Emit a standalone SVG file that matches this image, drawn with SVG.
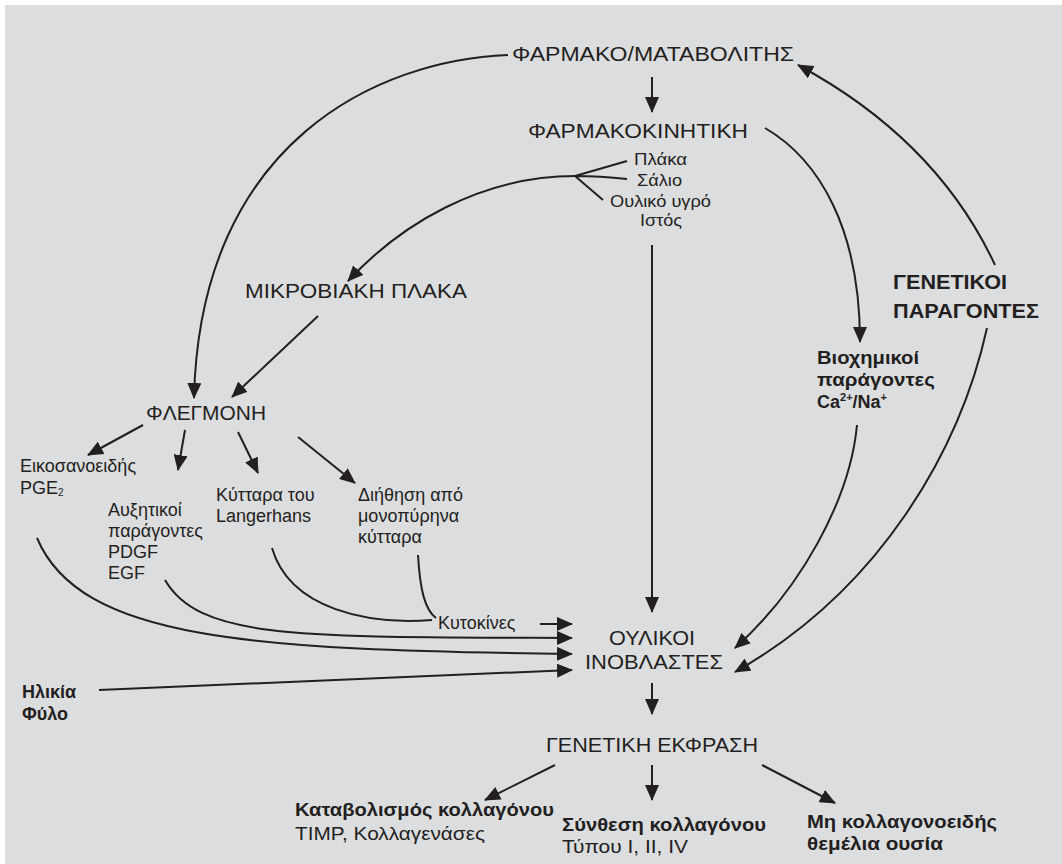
<svg xmlns="http://www.w3.org/2000/svg" width="1062" height="864" viewBox="0 0 1062 864">
<defs>
<marker id="ah" markerUnits="userSpaceOnUse" markerWidth="16" markerHeight="14" refX="15" refY="7" orient="auto">
<path d="M0,0 L16,7 L0,14 Z" fill="#231f20"/>
</marker>
<style>
.t{font-family:"Liberation Sans","Noto Sans",sans-serif;fill:#231f20}
.big{font-size:21px}
.sm{font-size:17px}
.md{font-size:18px}
.bt{font-size:19px}
.b{font-weight:bold}
.c{fill:none;stroke:#231f20;stroke-width:2}
.a{marker-end:url(#ah)}
</style>
</defs>
<rect x="0" y="0" width="1062" height="864" fill="#ffffff"/>
<rect x="5" y="5" width="1057" height="859" fill="#dcdddf"/>

<g id="connectors">
<path class="c a" d="M508,55 C380,60 200,140 194,398"/>
<path class="c a" d="M652,77 L652,112"/>
<path class="c a" d="M765,128 C820,160 860,230 860,342"/>
<path class="c a" d="M995,265 C960,190 900,120 798,65"/>
<path class="c" d="M627,161 L575,176 M627,179 Q600,176 575,176 M603,200 L575,176"/>
<path class="c a" d="M575,176 C480,176 400,225 348,281"/>
<path class="c a" d="M652,245 L652,612"/>
<path class="c a" d="M318,316 L232,397"/>
<path class="c a" d="M143,425 L88,455"/>
<path class="c a" d="M185,430 L178,470"/>
<path class="c a" d="M238,432 L258,473"/>
<path class="c a" d="M298,437 L355,483"/>
<path class="c a" d="M540,624 L572,624"/>
<path class="c" d="M272,548 C290,610 370,625 432,620"/>
<path class="c" d="M418,555 C420,590 425,610 436,618"/>
<path class="c a" d="M165,580 C200,640 300,637 572,638"/>
<path class="c a" d="M37,538 C80,640 250,650 572,654"/>
<path class="c a" d="M99,690 L572,670"/>
<path class="c a" d="M857,425 C850,500 800,590 735,648"/>
<path class="c a" d="M987,328 C960,450 880,590 735,672"/>
<path class="c a" d="M652,683 L652,714"/>
<path class="c a" d="M555,765 L485,800"/>
<path class="c a" d="M652,765 L652,800"/>
<path class="c a" d="M762,765 L835,803"/>
</g>

<g id="n-farmako"><text class="t big" x="512" y="61" textLength="282" lengthAdjust="spacingAndGlyphs">ΦΑΡΜΑΚΟ/ΜΑΤΑΒΟΛΙΤΗΣ</text></g>
<g id="n-farmakokinitiki"><text class="t big" x="528" y="138" textLength="220" lengthAdjust="spacingAndGlyphs">ΦΑΡΜΑΚΟΚΙΝΗΤΙΚΗ</text></g>
<g id="n-media">
<text class="t sm" x="634" y="165" textLength="53" lengthAdjust="spacingAndGlyphs">Πλάκα</text>
<text class="t sm" x="637" y="186" textLength="45" lengthAdjust="spacingAndGlyphs">Σάλιο</text>
<text class="t sm" x="610" y="207" textLength="101" lengthAdjust="spacingAndGlyphs">Ουλικό υγρό</text>
<text class="t sm" x="640" y="226" textLength="42" lengthAdjust="spacingAndGlyphs">Ιστός</text>
</g>
<g id="n-mikroviaki"><text class="t big" x="245" y="298" textLength="222" lengthAdjust="spacingAndGlyphs">ΜΙΚΡΟΒΙΑΚΗ ΠΛΑΚΑ</text></g>
<g id="n-flegmoni"><text class="t big" x="146" y="420" textLength="120" lengthAdjust="spacingAndGlyphs">ΦΛΕΓΜΟΝΗ</text></g>
<g id="n-eikosa">
<text class="t md" x="20" y="472">Εικοσανοειδής</text>
<text class="t md" x="20" y="494">PGE<tspan font-size="10" dy="2">2</tspan></text>
</g>
<g id="n-afxitikoi">
<text class="t md" x="108" y="516">Αυξητικοί</text>
<text class="t md" x="108" y="537">παράγοντες</text>
<text class="t md" x="108" y="558">PDGF</text>
<text class="t md" x="108" y="579">EGF</text>
</g>
<g id="n-kyttara">
<text class="t md" x="216" y="501">Κύτταρα του</text>
<text class="t md" x="216" y="522">Langerhans</text>
</g>
<g id="n-diithisi">
<text class="t md" x="358" y="501">Διήθηση από</text>
<text class="t md" x="358" y="522">μονοπύρηνα</text>
<text class="t md" x="358" y="543">κύτταρα</text>
</g>
<g id="n-kytokines"><text class="t md" x="438" y="629">Κυτοκίνες</text></g>
<g id="n-inovlastes">
<text class="t big" x="652" y="645" text-anchor="middle" textLength="86" lengthAdjust="spacingAndGlyphs">ΟΥΛΙΚΟΙ</text>
<text class="t big" x="654" y="669" text-anchor="middle" textLength="138" lengthAdjust="spacingAndGlyphs">ΙΝΟΒΛΑΣΤΕΣ</text>
</g>
<g id="n-genetiki-ekfrasi"><text class="t big" x="546" y="752" textLength="212" lengthAdjust="spacingAndGlyphs">ΓΕΝΕΤΙΚΗ ΕΚΦΡΑΣΗ</text></g>
<g id="n-katavolismos">
<text class="t bt b" x="295" y="816" textLength="259" lengthAdjust="spacingAndGlyphs">Καταβολισμός κολλαγόνου</text>
<text class="t bt" x="295" y="840" textLength="190" lengthAdjust="spacingAndGlyphs">TIMP, Κολλαγενάσες</text>
</g>
<g id="n-synthesi">
<text class="t bt b" x="562" y="831" textLength="204" lengthAdjust="spacingAndGlyphs">Σύνθεση κολλαγόνου</text>
<text class="t bt" x="562" y="853" textLength="126" lengthAdjust="spacingAndGlyphs">Τύπου I, II, IV</text>
</g>
<g id="n-mi-kollag">
<text class="t bt b" x="807" y="828" textLength="190" lengthAdjust="spacingAndGlyphs">Μη κολλαγονοειδής</text>
<text class="t bt b" x="807" y="850" textLength="136" lengthAdjust="spacingAndGlyphs">θεμέλια ουσία</text>
</g>
<g id="n-genetikoi">
<text class="t b" font-size="21" x="893" y="289" textLength="114" lengthAdjust="spacingAndGlyphs">ΓΕΝΕΤΙΚΟΙ</text>
<text class="t b" font-size="21" x="893" y="318" textLength="146" lengthAdjust="spacingAndGlyphs">ΠΑΡΑΓΟΝΤΕΣ</text>
</g>
<g id="n-viochimikoi">
<text class="t md b" x="817" y="364" textLength="102" lengthAdjust="spacingAndGlyphs">Βιοχημικοί</text>
<text class="t md b" x="817" y="386" textLength="118" lengthAdjust="spacingAndGlyphs">παράγοντες</text>
<text class="t md b" x="817" y="408">Ca<tspan font-size="11" dy="-7">2+</tspan><tspan dy="7">/Na</tspan><tspan font-size="11" dy="-7">+</tspan></text>
</g>
<g id="n-ilikia">
<text class="t md b" x="22" y="698">Ηλικία</text>
<text class="t md b" x="22" y="720">Φύλο</text>
</g>
</svg>
